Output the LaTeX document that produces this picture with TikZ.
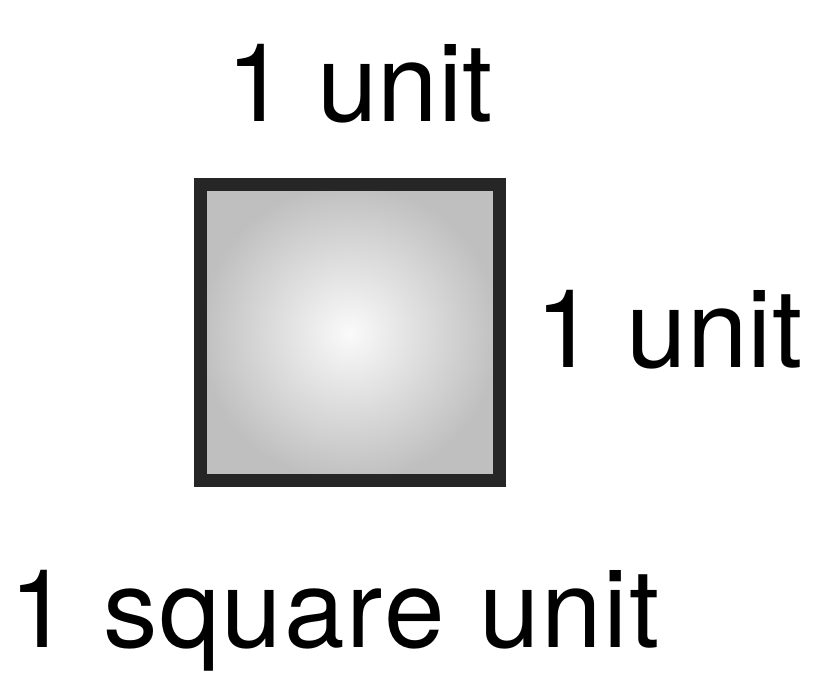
\documentclass[tikz,border=0pt]{standalone}
\usepackage{fontspec}
\setmainfont{TeX Gyre Heros}
\usetikzlibrary{positioning}
\tikzstyle{lbl}=[inner sep=0pt, font=\fontsize{62}{68}\selectfont]

\begin{document}
\begin{tikzpicture}[node distance=1cm,
  unitsq/.style={rectangle, draw=black!85, line width=7.4pt,
                 minimum width=5.98cm, minimum height=5.92cm,
                 inner color=white!96!gray, outer color=gray!50}
]
\useasboundingbox (0,0) rectangle (16.58,13.72);

% Square
\node[unitsq] (sq) at (6.99,7.06) {};

% Side labels
\node[lbl, above=1.1cm of sq, xshift=0.2cm] (top) {1 unit};
\node[lbl, right=0.6cm of sq, yshift=0.06cm] (side) {1 unit};

% Area label
\node[lbl, below=1.65cm of sq, xshift=-0.3cm] (area) {1\kern2pt\ s\kern1pt q\kern1pt u\kern1pt a\kern1pt r\kern1pt e\kern2pt\ u\kern1pt n\kern1pt i\kern1pt t};
\end{tikzpicture}
\end{document}
